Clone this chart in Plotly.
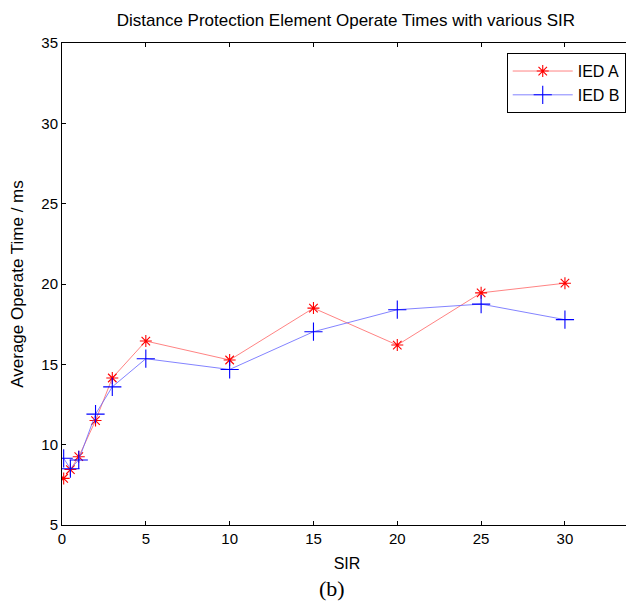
import plotly.graph_objects as go

sir = [0.1, 0.5, 1, 2, 3, 5, 10, 15, 20, 25, 30]
ied_a = [7.9, 8.45, 9.25, 11.5, 14.15, 16.45, 15.27, 18.5, 16.2, 19.45, 20.05]
ied_b = [9.15, 8.5, 9.05, 11.9, 13.6, 15.35, 14.68, 17.03, 18.4, 18.75, 17.78]
x_ticks = [0, 5, 10, 15, 20, 25, 30]
y_ticks = [5, 10, 15, 20, 25, 30, 35]

font = "Liberation Sans, Arial, sans-serif"

fig = go.Figure()
fig.add_trace(go.Scatter(
    x=sir, y=ied_a, name="IED A", mode="lines+markers",
    line=dict(color="rgba(255,100,100,0.8)", width=1),
    marker=dict(symbol="asterisk-open", size=10, color="red",
                line=dict(color="red", width=1.1)),
))
fig.add_trace(go.Scatter(
    x=sir, y=ied_b, name="IED B", mode="lines+markers",
    line=dict(color="rgba(100,100,255,0.8)", width=1),
    marker=dict(symbol="cross-thin-open", size=13, color="blue",
                line=dict(color="blue", width=1.1)),
))

axis_common = dict(
    showgrid=False, zeroline=False, showline=True, linecolor="black",
    linewidth=1, mirror="ticks", ticks="inside", ticklen=4,
    tickcolor="black", tickfont=dict(family=font, size=15, color="black"),
)

fig.update_layout(
    width=626, height=594,
    margin=dict(l=54, r=2, t=35, b=77),
    paper_bgcolor="white", plot_bgcolor="white",
    font=dict(family=font, color="black"),
    title=dict(text="Distance Protection Element Operate Times with various SIR",
               x=0.498, xanchor="center", xref="paper", y=0.98, yanchor="middle",
               font=dict(family=font, size=17, color="black")),
    xaxis=dict(range=[0, 34], tickvals=x_ticks,
               title=dict(text="SIR", font=dict(family=font, size=16), standoff=11),
               **axis_common),
    yaxis=dict(range=[5, 35], tickvals=y_ticks,
               title=dict(text="Average Operate Time / ms", font=dict(family=font, size=17), standoff=13),
               **axis_common),
    legend=dict(x=0.989, y=0.979, xanchor="right", yanchor="top",
                bordercolor="black", borderwidth=1, bgcolor="white",
                font=dict(family=font, size=16, color="black"),
                itemwidth=60, tracegroupgap=0),
    showlegend=True,
)
fig.add_annotation(text="(b)", xref="paper", yref="paper", x=0.474, y=-0.131,
                   xanchor="center", yanchor="middle", showarrow=False,
                   font=dict(family="Liberation Serif, Times New Roman, serif", size=22, color="black"))

fig.write_html("out.html")
